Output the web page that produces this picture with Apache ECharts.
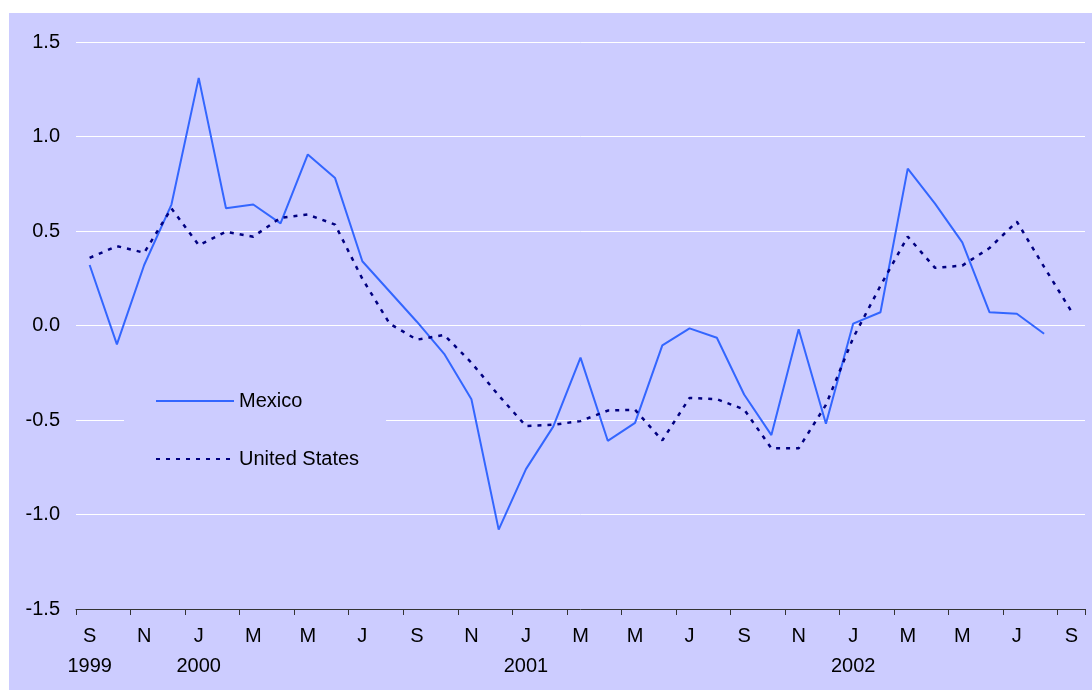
<!DOCTYPE html>
<html>
<head>
<meta charset="utf-8">
<script src="https://cdn.jsdelivr.net/npm/echarts@6/dist/echarts.min.js"></script>
<style>
  html, body { margin: 0; padding: 0; background: #ffffff; }
  #wrap { position: relative; width: 1092px; height: 690px; }
  #chart { position: absolute; left: 9px; top: 13px; width: 1083px; height: 677px; background: #ccccff; }
</style>
</head>
<body>
<div id="wrap"><div id="chart"></div></div>
<script>
// monthly, Sep 1999 .. Sep 2002
const months = ["S","O","N","D","J","F","M","A","M","J","J","A",
  "S","O","N","D","J","F","M","A","M","J","J","A",
  "S","O","N","D","J","F","M","A","M","J","J","A","S"]
const years = {0: "1999", 4: "2000", 16: "2001", 28: "2002"}

const mexico = [0.32, -0.10, 0.32, 0.64, 1.31, 0.62, 0.64, 0.54, 0.905, 0.78, 0.34, 0.18,
  0.02, -0.15, -0.39, -1.08, -0.76, -0.535, -0.17, -0.61, -0.515, -0.105, -0.015, -0.065,
  -0.365, -0.58, -0.02, -0.52, 0.01, 0.07, 0.83, 0.645, 0.44, 0.07, 0.062, -0.044, null]

const unitedStates = [0.358, 0.42, 0.385, 0.62, 0.425, 0.496, 0.47, 0.57, 0.587, 0.534, 0.247, 0.01,
  -0.075, -0.05, -0.197, -0.37, -0.532, -0.525, -0.506, -0.45, -0.446, -0.608, -0.383, -0.39,
  -0.444, -0.65, -0.65, -0.42, -0.065, 0.21, 0.47, 0.305, 0.317, 0.41, 0.55, 0.31, 0.075]

const yTicks = { min: -1.5, max: 1.5, step: 0.5 }

const font = "'Liberation Sans', Arial, sans-serif"
const chart = echarts.init(document.getElementById("chart"))
chart.setOption({
  backgroundColor: "transparent",
  animation: false,
  textStyle: { fontFamily: font },
  grid: { left: 67, right: 7, top: 29, bottom: 81 },
  legend: {
    orient: "vertical",
    left: 115,
    top: 366,
    padding: [12, 27, 12, 31],
    backgroundColor: "#ccccff",
    itemWidth: 78,
    itemHeight: 14,
    itemGap: 38,
    z: 10,
    itemStyle: { opacity: 0, borderWidth: 0 },
    textStyle: { fontSize: 20, color: "#000", fontFamily: font },
    data: ["Mexico", "United States"]
  },
  xAxis: {
    type: "category",
    boundaryGap: true,
    data: months,
    axisLine: { show: true, onZero: false, lineStyle: { color: "#333", width: 1 } },
    axisTick: { show: true, interval: 1, length: 6, lineStyle: { color: "#333", width: 1 } },
    axisLabel: {
      interval: 1,
      margin: 12,
      fontSize: 20,
      lineHeight: 30,
      color: "#000",
      fontFamily: font,
      formatter: (v, i) => years[i] ? v + "\n" + years[i] : v
    },
    splitLine: { show: false }
  },
  yAxis: {
    type: "value",
    min: yTicks.min,
    max: yTicks.max,
    interval: yTicks.step,
    axisLine: { show: false },
    axisTick: { show: false },
    axisLabel: {
      margin: 16,
      fontSize: 20,
      color: "#000",
      fontFamily: font,
      formatter: (v) => v.toFixed(1)
    },
    splitLine: { lineStyle: { color: "#ffffff", width: 1 } }
  },
  series: [
    {
      name: "Mexico",
      type: "line",
      data: mexico,
      symbol: "none",
      lineStyle: { color: "#3366ff", width: 2 },
      itemStyle: { color: "#3366ff" }
    },
    {
      name: "United States",
      type: "line",
      data: unitedStates,
      symbol: "none",
      lineStyle: { color: "#000080", width: 2.5, type: [4, 6] },
      itemStyle: { color: "#000080" }
    }
  ]
})
</script>
</body>
</html>
